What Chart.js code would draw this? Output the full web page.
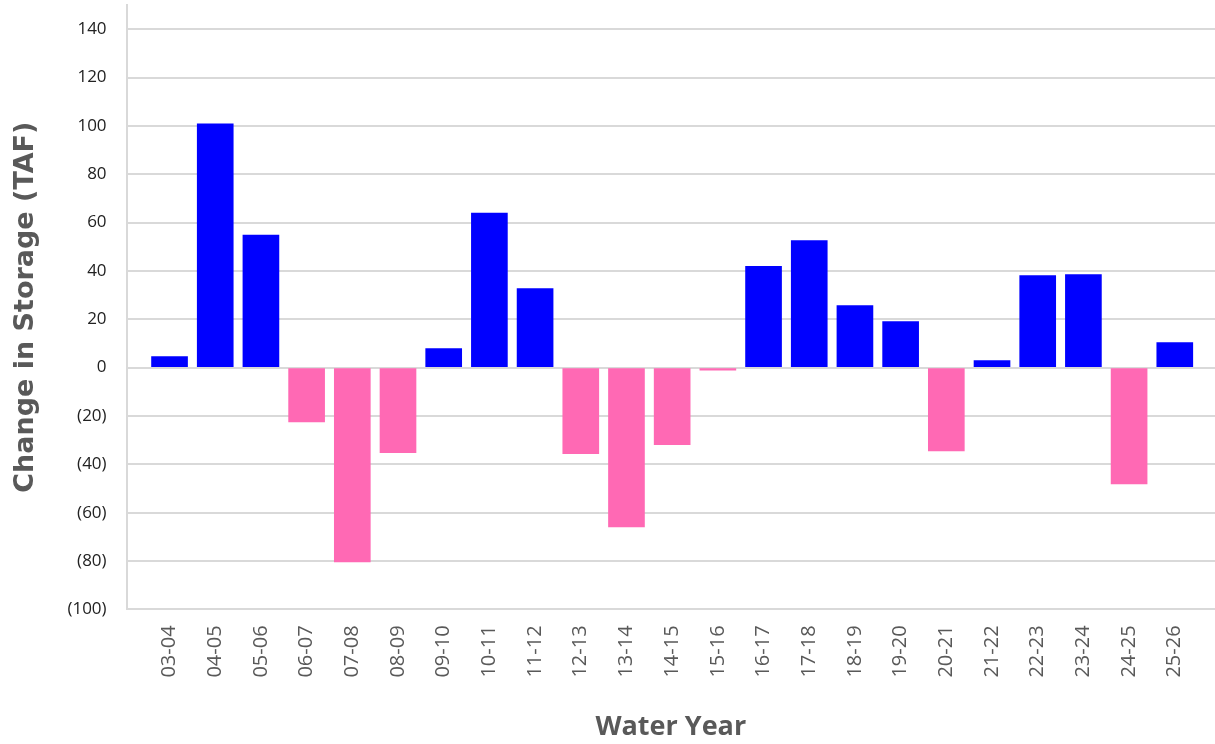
<!DOCTYPE html>
<html>
<head>
<meta charset="utf-8">
<script src="https://cdn.jsdelivr.net/npm/chart.js@4/dist/chart.umd.min.js"></script>
<style>
  html, body { margin: 0; padding: 0; background: #fff; }
  #wrap { width: 1215px; height: 744px; }
</style>
</head>
<body>
<div id="wrap"><canvas id="storageChart"></canvas></div>
<script>
const waterYears = ['03-04', '04-05', '05-06', '06-07', '07-08', '08-09', '09-10', '10-11',
    '11-12', '12-13', '13-14', '14-15', '15-16', '16-17', '17-18', '18-19', '19-20',
    '20-21', '21-22', '22-23', '23-24', '24-25', '25-26'];
const storageChange = [4.6, 100.8, 54.8, -22.4, -80.4, -35.2, 7.9, 63.9, 32.7, -35.6, -65.9,
    -31.9, -1, 41.9, 52.6, 25.7, 19.1, -34.4, 2.9, 38.1, 38.5, -48.1, 10.4];
const yTickValues = [-100, -80, -60, -40, -20, 0, 20, 40, 60, 80, 100, 120, 140];

const points = storageChange.map((v, i) => ({ x: i, y: v }));
const barColors = storageChange.map(v => v >= 0 ? '#0000ff' : '#ff69b4');

const ctx = document.getElementById('storageChart').getContext('2d');
const storageChart = new Chart(ctx, {
    type: 'bar',
    data: {
        datasets: [{
            label: 'Change in Storage',
            data: points,
            backgroundColor: barColors,
            borderWidth: 0,
            barThickness: 36
        }]
    },
    options: {
        responsive: true,
        maintainAspectRatio: false,
        animation: false,
        layout: { padding: { top: 5, right: 0, left: 10, bottom: 0 } },
        plugins: { legend: { display: false }, tooltip: { enabled: false } },
        scales: {
            x: {
                type: 'linear',
                offset: false,
                min: -0.94,
                max: 22.88,
                // one tick per water year, plus an unlabeled one at the right edge
                afterBuildTicks: axis => {
                    axis.ticks = waterYears.map((_, i) => ({ value: i }));
                    axis.ticks.push({ value: axis.max });
                },
                ticks: {
                    autoSkip: false,
                    minRotation: 90,
                    maxRotation: 90,
                    color: '#595959',
                    font: { family: 'Open Sans', size: 20 },
                    padding: 0,
                    callback: value => waterYears[value] ?? []
                },
                grid: { display: true, offset: false, drawOnChartArea: false, drawTicks: true, tickLength: 16, tickColor: 'transparent' },
                border: { display: false },
                title: {
                    display: true,
                    text: 'Water Year',
                    color: '#595959',
                    font: { family: 'Open Sans', size: 27, weight: 'bold' },
                    padding: { top: 34, bottom: 0 }
                }
            },
            y: {
                min: -100,
                max: 150,
                afterBuildTicks: axis => {
                    axis.ticks = yTickValues.map(v => ({ value: v }));
                    axis.ticks.push({ value: axis.max });
                },
                ticks: {
                    color: '#222',
                    font: { family: 'Open Sans', size: 17 },
                    padding: 0,
                    callback: value => {
                        if (!yTickValues.includes(value)) return [];
                        return value < 0 ? '(' + Math.abs(value) + ')' : String(value);
                    }
                },
                grid: {
                    color: c => (c.tick && yTickValues.includes(c.tick.value)) ? '#d9d9d9' : 'transparent',
                    lineWidth: 2,
                    drawTicks: true,
                    tickLength: 20,
                    tickColor: 'transparent'
                },
                border: { color: '#d9d9d9', width: 2 },
                title: {
                    display: true,
                    text: 'Change in Storage (TAF)',
                    color: '#595959',
                    font: { family: 'DejaVu Sans', size: 27, weight: 'bold' },
                    padding: { top: 0, bottom: 25 }
                }
            }
        }
    }
});
</script>
</body>
</html>
